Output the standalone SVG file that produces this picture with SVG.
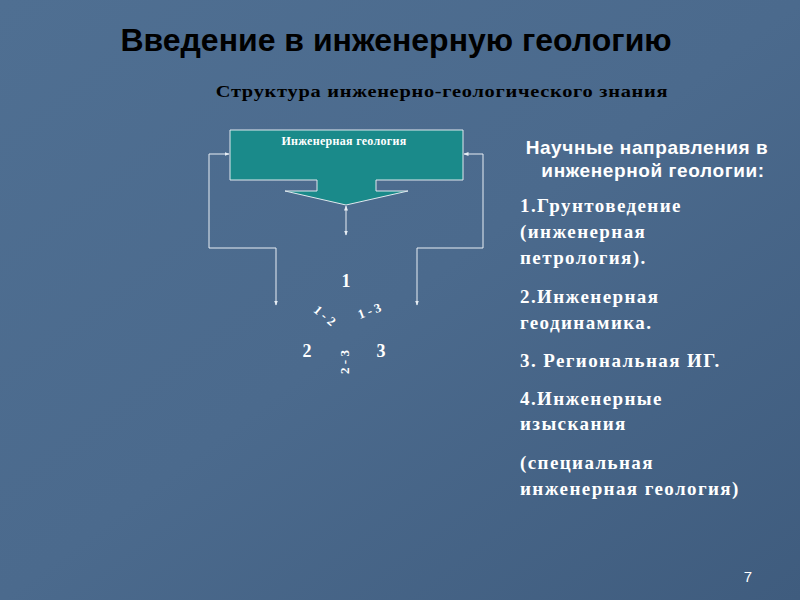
<svg xmlns="http://www.w3.org/2000/svg" width="800" height="600" viewBox="0 0 800 600">
<defs>
<linearGradient id="bg" x1="0" y1="0" x2="1" y2="1"><stop offset="0" stop-color="#4f6f92"/><stop offset="0.5" stop-color="#4b6a8d"/><stop offset="1" stop-color="#3f5c7e"/></linearGradient>
<marker id="ah" viewBox="0 0 10 10" refX="9" refY="5" markerWidth="5" markerHeight="5" orient="auto-start-reverse"><path d="M0,1 L10,5 L0,9 z" fill="#e8eef4"/></marker>
<style>
.t{font-family:"Liberation Sans",Arial,sans-serif;font-weight:bold;fill:#000}
.s{font-family:"Liberation Serif","Times New Roman",serif;font-weight:bold;fill:#fff}
.c{fill:none;stroke:#e8eef4;stroke-width:1}
</style>
</defs>
<rect width="800" height="600" fill="url(#bg)"/>
<text class="t" x="396" y="51" font-size="32" text-anchor="middle">Введение в инженерную геологию</text>
<text class="t" x="442" y="97" font-size="17" text-anchor="middle" style="font-family:'Liberation Serif','Times New Roman',serif" letter-spacing="0.6" transform="translate(442,0) scale(1.2,1) translate(-442,0)">Структура инженерно-геологического знания</text>
<g id="node-ig">
<path d="M230,130 H463 V180 H376 V191 H408 L346,205 L285,191 H317 V180 H230 Z" fill="#1a8a8a" stroke="#e0e8ee" stroke-width="1"/>
<text class="s" x="344" y="145" font-size="12" text-anchor="middle" letter-spacing="0.3">Инженерная геология</text>
</g>
<g id="connectors">
<line class="c" x1="346" y1="206" x2="346" y2="235" marker-start="url(#ah)" marker-end="url(#ah)"/>
<polyline class="c" points="276,305 276,248 209,248 209,154 229,154" marker-start="url(#ah)" marker-end="url(#ah)"/>
<polyline class="c" points="417,305 417,248 483,248 483,154 464,154" marker-start="url(#ah)" marker-end="url(#ah)"/>
</g>
<g id="triangle">
<text class="s" x="346" y="287" font-size="18" text-anchor="middle">1</text>
<text class="s" x="307" y="357" font-size="18" text-anchor="middle">2</text>
<text class="s" x="381" y="357" font-size="18" text-anchor="middle">3</text>
<text class="s" font-size="13" text-anchor="middle" transform="translate(322,319) rotate(40)">1 - 2</text>
<text class="s" font-size="13" text-anchor="middle" transform="translate(371,315) rotate(-20)">1 - 3</text>
<text class="s" font-size="13" text-anchor="middle" transform="translate(349,362) rotate(-90)">2 - 3</text>
</g>
<g id="list" class="s" font-size="19" letter-spacing="1.4">
<text class="t" x="647" y="154" font-size="19" letter-spacing="0.6" style="fill:#fff" text-anchor="middle">Научные направления в</text>
<text class="t" x="653" y="177" font-size="19" letter-spacing="0.6" style="fill:#fff" text-anchor="middle">инженерной геологии:</text>
<text x="520" y="212">1.Грунтоведение</text>
<text x="520" y="238">(инженерная</text>
<text x="520" y="264">петрология).</text>
<text x="520" y="303">2.Инженерная</text>
<text x="520" y="329">геодинамика.</text>
<text x="520" y="367">3.  Региональная ИГ.</text>
<text x="520" y="405">4.Инженерные</text>
<text x="520" y="430">изыскания</text>
<text x="520" y="469">(специальная</text>
<text x="520" y="495">инженерная геология)</text>
</g>
<text x="748" y="582" font-family="Liberation Sans,Arial,sans-serif" font-size="15" fill="#fff" text-anchor="middle">7</text>
</svg>
